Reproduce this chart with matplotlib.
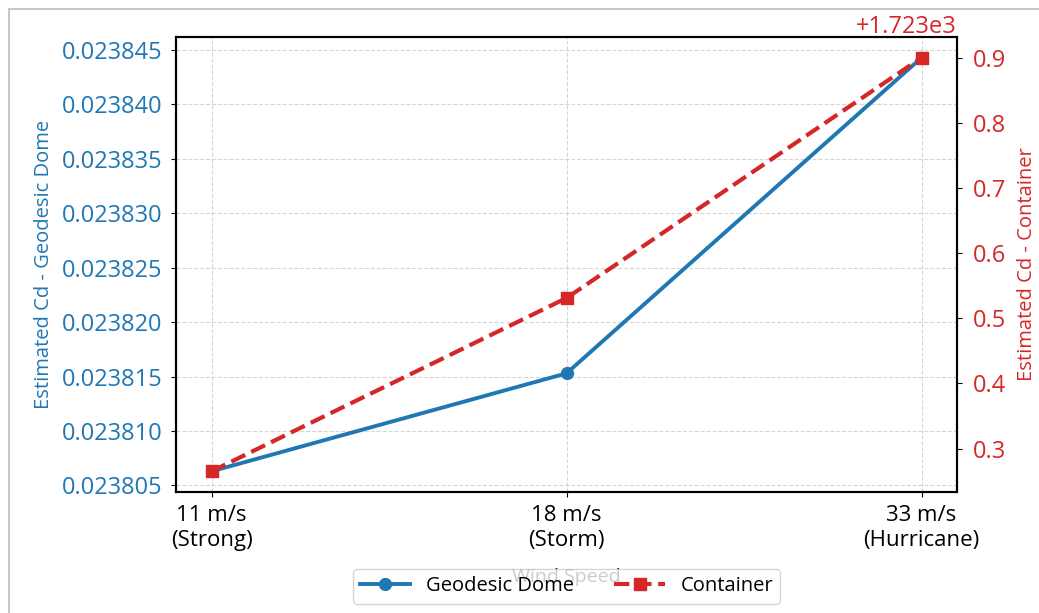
import matplotlib
matplotlib.use("Agg")
import matplotlib.pyplot as plt
from matplotlib.lines import Line2D

plt.rcParams['font.family'] = ['Open Sans', 'DejaVu Sans']

categories = ["11 m/s\n(Strong)", "18 m/s\n(Storm)", "33 m/s\n(Hurricane)"]
dome_cd = [0.0238063, 0.0238153, 0.0238443]
container_cd = [1723.265, 1723.531, 1723.900]

blue = '#1f77b4'
red = '#d62728'

fig = plt.figure(figsize=(10.39, 6.13), dpi=100)
ax = fig.add_axes([176/1039, 1-492/613, (957-176)/1039, (492-37)/613])
x = list(range(len(categories)))

l1, = ax.plot(x, dome_cd, color=blue, lw=2.8, marker='o', markersize=8.5, label='Geodesic Dome')
ax.set_ylabel('Estimated Cd - Geodesic Dome', color=blue, fontsize=14.5, labelpad=6)
ax.tick_params(axis='y', labelcolor=blue, labelsize=17, pad=6)
ax.tick_params(axis='x', labelsize=16, pad=6)
ax.set_xticks(x)
ax.set_xticklabels(categories, linespacing=1.25)
ax.set_xlabel('Wind Speed', fontsize=14, labelpad=12)
ax.grid(True, linestyle='--', color='#cccccc', alpha=0.8)
ax.yaxis.get_major_formatter().set_useOffset(False)

ax2 = ax.twinx()
l2, = ax2.plot(x, container_cd, color=red, lw=3, ls='--', marker='s', markersize=9, label='Container')
ax2.set_ylabel('Estimated Cd - Container', color=red, fontsize=14.5, labelpad=8)
ax2.tick_params(axis='y', labelcolor=red, labelsize=17, pad=8)
ax2.yaxis.get_offset_text().set_color(red)
ax2.yaxis.get_offset_text().set_fontsize(17)

for a in (ax, ax2):
    for s in a.spines.values():
        s.set_linewidth(1.5)

leg = ax.legend(handles=[l1, l2], loc='upper center', bbox_to_anchor=(0.5, -0.148),
                ncol=2, fontsize=14.5, framealpha=0.8, borderpad=0.35, handlelength=2.5)
leg.set_zorder(10)

fig.add_artist(Line2D([9/1039, 9/1039], [0, 1-9/613], transform=fig.transFigure, color='#c8c8c8', lw=1.5))
fig.add_artist(Line2D([9/1039, 1], [1-9/613, 1-9/613], transform=fig.transFigure, color='#c8c8c8', lw=1.5))

fig.savefig('out.png', dpi=100)
